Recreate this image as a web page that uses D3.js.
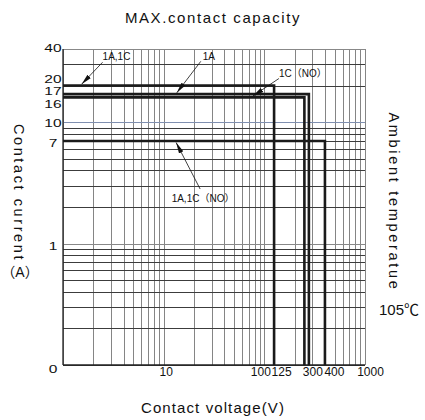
<!DOCTYPE html>
<html>
<head>
<meta charset="utf-8">
<script src="https://cdn.jsdelivr.net/npm/d3@7"></script>
<style>
  body { margin: 0; background: #fff; }
  text { font-family: "Liberation Sans", Arial, "Noto Sans CJK SC", sans-serif; fill: #111; }
</style>
</head>
<body>
<div id="container"></div>
<script>
// contact ratings, one entry per contact form
const series = ['1A,1C', '1A', '1C（NO）', '1A,1C（NO）'];
const currents = [20, 17, 16, 7];        // A
const voltages = [125, 277, 250, 400];   // V
const arrowVolts = [1.53, 13.5, 77, 13.3]; // where each label arrow touches its line

const xTicks = [10, 100, 125, 300, 400, 1000];
const yTicks = [0.1, 1, 7, 10, 16, 17, 20, 40];
const yTickLabels = ['0', '1', '7', '10', '16', '17', '20', '40'];

const width = 425;
const height = 420;

const svg = d3.select('#container').append('svg')
  .attr('width', width)
  .attr('height', height);

const x = d3.scaleLog().domain([1, 1000]).range([63, 365]);
const y = d3.scaleLog().domain([0.1, 40]).range([365, 49]);

// grid
const grid = svg.append('g');
grid.selectAll('line.v')
  .data(x.ticks())
  .enter().append('line')
  .attr('class', 'v')
  .attr('x1', d => Math.round(x(d)) + 0.5)
  .attr('x2', d => Math.round(x(d)) + 0.5)
  .attr('y1', y(40))
  .attr('y2', y(0.1))
  .attr('stroke', '#858585')
  .attr('stroke-width', 1);

grid.selectAll('line.h')
  .data(y.ticks())
  .enter().append('line')
  .attr('class', 'h')
  .attr('x1', x(1))
  .attr('x2', x(1000))
  .attr('y1', d => Math.round(y(d)) + 0.5)
  .attr('y2', d => Math.round(y(d)) + 0.5)
  .attr('stroke', d => d === 10 ? '#7f8fb0' : (d === 1 || d === 40 ? '#888' : '#3c3c3c'))
  .attr('stroke-width', 1);

// frame: dark left/bottom, grey top/right
svg.append('line').attr('x1', x(1)).attr('x2', x(1)).attr('y1', y(40)).attr('y2', y(0.1))
  .attr('stroke', '#222').attr('stroke-width', 1.3);
svg.append('line').attr('x1', x(1)).attr('x2', x(1000)).attr('y1', y(0.1)).attr('y2', y(0.1))
  .attr('stroke', '#222').attr('stroke-width', 1.3);

// rating lines
const line = d3.line().x(d => x(d[0])).y(d => y(d[1]));
svg.append('g')
  .selectAll('path')
  .data(currents.map((c, i) => [[1, c], [voltages[i], c], [voltages[i], 0.1]]))
  .enter().append('path')
  .attr('d', line)
  .attr('fill', 'none')
  .attr('stroke', '#1a1a1a')
  .attr('stroke-width', 2.6);

// axes
const xNudge = {10: 2, 100: -4, 125: 7, 400: 9, 1000: 5};
const xAxis = svg.append('g')
  .attr('transform', `translate(0,${y(0.1)})`)
  .call(d3.axisBottom(x).tickValues(xTicks).tickSize(0).tickFormat(d3.format('d')));
xAxis.select('.domain').remove();
xAxis.selectAll('text')
  .attr('y', 0)
  .attr('dy', 0)
  .attr('transform', d => `translate(${xNudge[d] || 0},10.5)`)
  .style('font-size', '12px')
  .attr('fill', '#111');

const yNudge = {0.1: 3.5, 1: 1.4, 7: 1.3, 10: 0, 16: 6.2, 17: -4, 20: -7, 40: -1.6};
const yAxis = svg.append('g')
  .attr('transform', `translate(${x(1)},0)`)
  .call(d3.axisLeft(y).tickValues(yTicks).tickSize(0).tickFormat((d, i) => yTickLabels[i]));
yAxis.select('.domain').remove();
yAxis.selectAll('text')
  .attr('x', 0)
  .attr('dy', '0.36em')
  .attr('text-anchor', 'middle')
  .attr('transform', d => `translate(-10,${yNudge[d] || 0}) scale(1.35,1)`)
  .style('font-size', '11.5px')
  .attr('fill', '#111');

// label arrows
svg.append('defs').append('marker')
  .attr('id', 'arr')
  .attr('markerUnits', 'userSpaceOnUse')
  .attr('markerWidth', 11)
  .attr('markerHeight', 8)
  .attr('refX', 11)
  .attr('refY', 4)
  .attr('orient', 'auto')
  .append('path')
  .attr('d', 'M0,1.6 L11,4 L0,6.4 Z')
  .attr('fill', '#111');

// label dx,dy and arrow tail dx,dy from the arrow tip
const notePos = [[21, -24, 21, -22], [26, -33, 24, -31.5], [26, -19, 26, -17.5], [-4.5, 59, 24, 46.5]];
const tipShift = [-1.3, -1.3, -1.3, 1.6];

series.forEach((name, i) => {
  const tx = x(arrowVolts[i]);
  const ty = y(currents[i]) + tipShift[i];
  const p = notePos[i];
  svg.append('line')
    .attr('x1', tx + p[2]).attr('y1', ty + p[3])
    .attr('x2', tx).attr('y2', ty)
    .attr('stroke', '#111').attr('stroke-width', 0.8)
    .attr('marker-end', 'url(#arr)');
  svg.append('text')
    .attr('x', tx + p[0]).attr('y', ty + p[1])
    .style('font-size', '10px')
    .text(name);
});

// titles
svg.append('text')
  .attr('x', 213).attr('y', 23)
  .attr('text-anchor', 'middle')
  .style('font-size', '15px').style('letter-spacing', '1.6px')
  .text('MAX.contact capacity');

svg.append('text')
  .attr('x', 213).attr('y', 413)
  .attr('text-anchor', 'middle')
  .style('font-size', '15px').style('letter-spacing', '1.1px')
  .text('Contact voltage(V)');

svg.append('text')
  .attr('transform', 'translate(19,193) rotate(90)')
  .attr('text-anchor', 'middle')
  .attr('dy', '0.35em')
  .style('font-size', '14.5px').style('letter-spacing', '2.6px')
  .text('Contact current');

svg.append('text')
  .attr('x', 20).attr('y', 277)
  .attr('text-anchor', 'middle')
  .style('font-size', '14px')
  .text('（A）');

svg.append('text')
  .attr('transform', 'translate(394,202) rotate(90)')
  .attr('text-anchor', 'middle')
  .attr('dy', '0.35em')
  .style('font-size', '14.5px').style('letter-spacing', '2.7px')
  .text('Ambient temperatue');

svg.append('text')
  .attr('x', 379).attr('y', 315)
  .style('font-size', '15px')
  .text('105℃');
</script>
</body>
</html>
